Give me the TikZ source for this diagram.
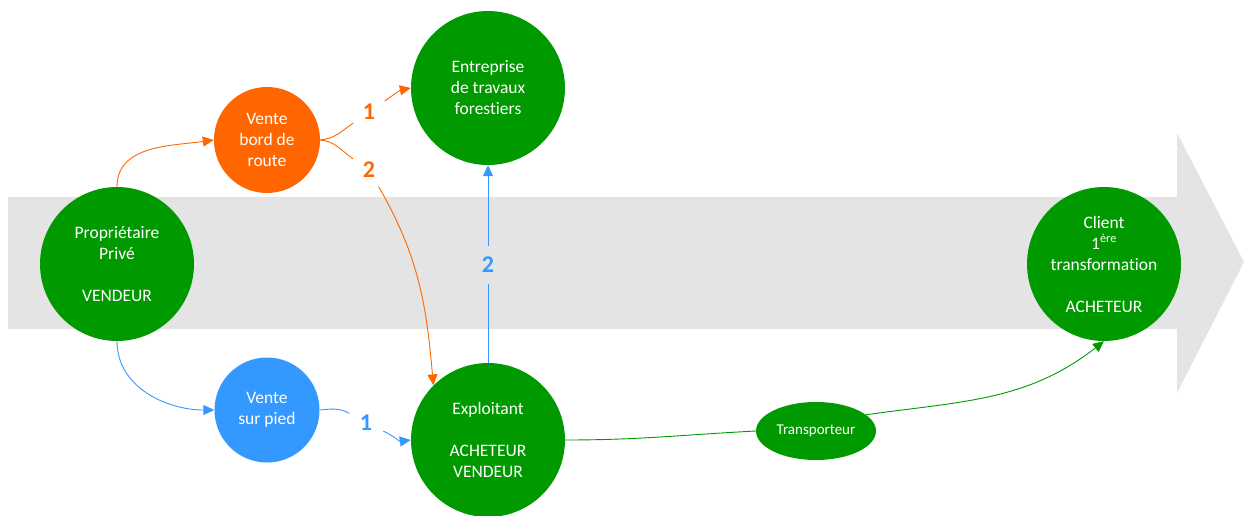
\documentclass[tikz,border=0pt]{standalone}
\usepackage{fontspec}
\setmainfont{Carlito}[Ligatures=NoCommon]
\usetikzlibrary{arrows.meta,shapes.geometric}
\definecolor{cgreen}{RGB}{0,153,0}
\definecolor{corange}{RGB}{255,102,0}
\definecolor{cblue}{RGB}{51,153,255}
\definecolor{cgray}{RGB}{228,228,228}
\tikzset{
  actor/.style={circle,fill=cgreen,text=white,align=center,inner sep=0pt,minimum size=154pt,font=\fontsize{17.5}{21}\selectfont},
  sale/.style={circle,text=white,align=center,inner sep=0pt,font=\fontsize{17.5}{21}\selectfont},
  num/.style={circle,inner sep=0pt,minimum size=38pt,font=\fontsize{24}{26}\selectfont\bfseries},
  tip/.style={-{Triangle[length=11pt,width=10pt]}},
  oline/.style={draw=corange,line width=0.9pt},
  bline/.style={draw=cblue,line width=0.9pt},
  gline/.style={draw=cgreen,line width=0.9pt},
}
\begin{document}
\begin{tikzpicture}[x=1pt,y=1pt]
\useasboundingbox (0,0) rectangle (1244,-516);
% background arrow
\fill[cgray] (8,-197) -- (1177,-197) -- (1177,-133) -- (1244,-262) -- (1177,-393) -- (1177,-329) -- (8,-329) -- cycle;
% nodes
\node[actor] (prop) at (117,-264) {Propriétaire\\Privé\\[21pt]VENDEUR};
\node[sale,fill=corange,minimum size=106pt] (vbr) at (267,-140) {Vente\\bord de\\route};
\node[actor] (ent) at (488,-88) {Entreprise\\de travaux\\forestiers};
\node[sale,fill=cblue,minimum size=105pt] (vsp) at (267,-410) {Vente\\sur pied};
\node[actor] (expl) at (488,-440) {Exploitant\\[21pt]ACHETEUR\\VENDEUR};
\node[actor] (client) at (1104,-264) {Client\\1\textsuperscript{ère}\\transformation\\[21pt]ACHETEUR};
\node[ellipse,fill=cgreen,text=white,inner sep=0pt,minimum width=120pt,minimum height=58pt,font=\fontsize{15}{18}\selectfont] (transp) at (816,-431) {Transporteur};
% number labels
\node[num,text=corange] (o1) at (369,-112) {1};
\node[num,text=corange] (o2) at (369,-170) {2};
\node[num,text=cblue] (b1) at (366,-423) {1};
\node[num,text=cblue] (b2) at (488,-265) {2};
% connectors
\draw[oline,tip] (prop.north) to[out=90,in=188] (vbr.west);
\draw[bline,tip] (prop.south) to[out=-90,in=180] (vsp.west);
\draw[oline] (vbr.east) to[out=5,in=215] (o1);
\draw[oline,tip] (o1) to[out=35,in=192] (ent.west);
\draw[oline] (vbr.east) to[out=-5,in=145] (o2);
\draw[oline,tip] (o2) to[out=-60,in=95] (expl.135);
\draw[bline] (vsp.east) to[out=5,in=150] (b1);
\draw[bline,tip] (b1) to[out=-25,in=188] (expl.west);
\draw[bline] (expl.north) -- (b2);
\draw[bline,tip] (b2) -- (ent.south);
\draw[gline] (expl.east) to[out=0,in=183] (transp.west);
\draw[gline,tip] (transp.18) to[out=8,in=218] (client.south);
\end{tikzpicture}
\end{document}
